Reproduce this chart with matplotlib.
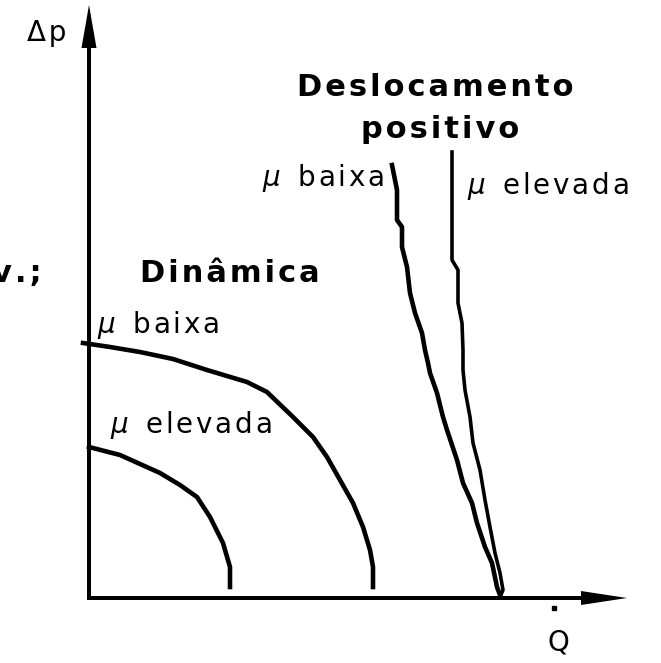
import matplotlib
matplotlib.use("Agg")
import matplotlib.pyplot as plt
from matplotlib.patches import FancyArrow

plt.rcParams['font.family'] = ['DejaVu Sans']

# Characteristic curves: flow rate Q vs pressure rise dp (drawing units)
dyn_low_q = [-6, 21, 51, 84, 118, 158, 178, 204, 224, 238, 251, 264, 274, 281, 284, 284]
dyn_low_dp = [255, 251, 246, 239, 228, 216, 206, 181, 161, 141, 118, 95, 71, 48, 31, 11]

dyn_high_q = [0, 31, 71, 91, 108, 121, 134, 141, 141]
dyn_high_dp = [151, 143, 125, 113, 101, 81, 55, 31, 11]

pd_low_q = [303, 308, 308, 313, 313, 318, 321, 326, 333, 336, 339, 341, 348, 354,
            358, 368, 374, 383, 388, 396, 403, 408, 411]
pd_low_dp = [433, 408, 378, 371, 351, 331, 305, 285, 265, 248, 235, 225, 205, 181,
             168, 138, 115, 95, 75, 51, 35, 11, 3]

pd_high_q = [363, 363, 369, 369, 373, 374, 374, 376, 381, 384, 391, 396, 401, 406,
             411, 414, 411]
pd_high_dp = [446, 338, 328, 295, 275, 248, 228, 208, 181, 155, 128, 98, 71, 45,
              25, 8, 1]


def spaced(s):
    # letter-spaced label, hair space between glyphs
    return '\u200a'.join(s)


def mu_label(word):
    return r'$\mu$' + '  ' + spaced(word)


fig = plt.figure(figsize=(6.61, 6.63), dpi=100)
ax = fig.add_axes([0, 0, 1, 1])
ax.set_xlim(-89, 572)
ax.set_ylim(-65, 598)
ax.axis('off')

# axes with arrow heads
ax.add_patch(FancyArrow(0, 0, 0, 593, width=4, head_width=15, head_length=43,
                        length_includes_head=True, color='black', lw=0))
ax.add_patch(FancyArrow(-2, 0, 540, 0, width=4, head_width=14, head_length=46,
                        length_includes_head=True, color='black', lw=0))

lw = 3.3
ax.plot(dyn_low_q, dyn_low_dp, color='black', lw=lw, solid_joinstyle='round')
ax.plot(dyn_high_q, dyn_high_dp, color='black', lw=lw, solid_joinstyle='round')
ax.plot(pd_low_q, pd_low_dp, color='black', lw=lw, solid_joinstyle='round')
ax.plot(pd_high_q, pd_high_dp, color='black', lw=2.6, solid_joinstyle='round')

fs = 20
bfs = 22
ax.text(-42, 565, spaced('Δp'), fontsize=fs, ha='center', va='center')
ax.text(469, -45, 'Q', fontsize=fs, ha='center', va='center')
ax.plot([465], [-10], marker='s', ms=2.5, color='black')

ax.text(346, 510, spaced('Deslocamento'), fontsize=bfs, fontweight='bold',
        ha='center', va='center')
ax.text(351, 468, spaced('positivo'), fontsize=bfs, fontweight='bold',
        ha='center', va='center')
ax.text(141, 325, spaced('Dinâmica'), fontsize=bfs, fontweight='bold',
        ha='center', va='center')
ax.text(-47, 325, spaced('v.;'), fontsize=bfs, fontweight='bold',
        ha='right', va='center')

ax.text(8, 273, mu_label('baixa'), fontsize=fs, ha='left', va='center')
ax.text(21, 173, mu_label('elevada'), fontsize=fs, ha='left', va='center')
ax.text(173, 420, mu_label('baixa'), fontsize=fs, ha='left', va='center')
ax.text(378, 412, mu_label('elevada'), fontsize=fs, ha='left', va='center')

fig.savefig('out.png', dpi=100)
